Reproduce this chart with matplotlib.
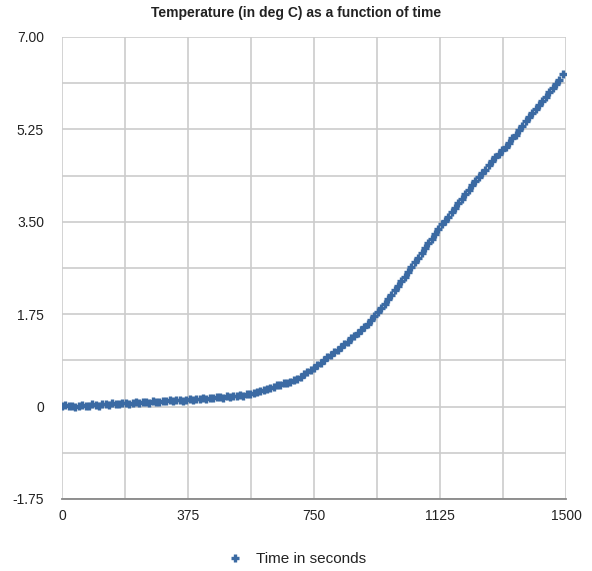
import numpy as np
import matplotlib
matplotlib.use("Agg")
import matplotlib.pyplot as plt

plt.rcParams['font.family'] = ['Liberation Sans', 'DejaVu Sans']

# sample times (s) and temperature readings (deg C)
time_s = np.arange(0, 1500, 10)
temp_c = [
    0.02, 0.03, 0.01, 0.02, 0.00, 0.02, 0.03, 0.01, 0.02, 0.04,
    0.03, 0.02, 0.05, 0.04, 0.03, 0.06, 0.05, 0.04, 0.06, 0.07,
    0.05, 0.07, 0.08, 0.06, 0.08, 0.09, 0.07, 0.10, 0.09, 0.08,
    0.11, 0.10, 0.12, 0.11, 0.13, 0.12, 0.11, 0.13, 0.14, 0.12,
    0.15, 0.14, 0.16, 0.15, 0.17, 0.16, 0.18, 0.19, 0.17, 0.20,
    0.19, 0.21, 0.20, 0.22, 0.21, 0.23, 0.24, 0.26, 0.28, 0.29,
    0.31, 0.33, 0.36, 0.38, 0.40, 0.41, 0.44, 0.45, 0.47, 0.50,
    0.53, 0.57, 0.61, 0.65, 0.70, 0.74, 0.79, 0.83, 0.89, 0.93,
    0.98, 1.03, 1.08, 1.13, 1.18, 1.23, 1.29, 1.34, 1.39, 1.45,
    1.50, 1.57, 1.64, 1.71, 1.79, 1.87, 1.95, 2.03, 2.12, 2.20,
    2.29, 2.37, 2.46, 2.55, 2.64, 2.73, 2.82, 2.91, 3.00, 3.09,
    3.18, 3.27, 3.36, 3.45, 3.52, 3.60, 3.68, 3.77, 3.86, 3.94,
    4.03, 4.11, 4.19, 4.27, 4.34, 4.42, 4.49, 4.57, 4.65, 4.72,
    4.79, 4.86, 4.92, 5.00, 5.08, 5.15, 5.23, 5.31, 5.40, 5.48,
    5.56, 5.64, 5.71, 5.79, 5.87, 5.95, 6.03, 6.11, 6.19, 6.30,
]

x_ticks = [0, 375, 750, 1125, 1500]
y_ticks = [-1.75, 0, 1.75, 3.50, 5.25, 7.00]
y_labels = ["-1.75", "0", "1.75", "3.50", "5.25", "7.00"]

blue = '#3b6aa3'
text_col = '#222222'

fig = plt.figure(figsize=(5.92, 5.71), dpi=100)
ax = fig.add_axes([62 / 592, 72 / 571, 504 / 592, 462 / 571])

ax.plot(time_s, temp_c, linestyle='none', marker='+', markersize=6,
        markeredgewidth=2.4, color=blue, label='Time in seconds', zorder=3)

ax.set_xlim(0, 1500)
ax.set_ylim(-1.75, 7.0)
ax.set_xticks(np.arange(0, 1501, 187.5), minor=True)
ax.set_yticks(np.arange(-1.75, 7.01, 0.875), minor=True)
ax.set_xticks(x_ticks)
ax.set_xticklabels([str(t) for t in x_ticks])
ax.set_yticks(y_ticks)
ax.set_yticklabels(y_labels)
ax.grid(True, which='both', color='#cccccc', linewidth=1.2, zorder=0)
ax.set_axisbelow(True)
ax.tick_params(which='both', length=0, labelsize=10, colors=text_col)
ax.tick_params(axis='y', pad=13)
ax.tick_params(axis='x', pad=7)

for side in ['top', 'right', 'left']:
    ax.spines[side].set_visible(False)
ax.spines['bottom'].set_color('#888888')
ax.spines['bottom'].set_linewidth(1.3)

fig.text(0.5, 1 - 13 / 571, "Temperature (in deg C) as a function of time",
         ha='center', va='center', fontsize=10, fontweight='bold', color=text_col)

fig.legend(loc='center', bbox_to_anchor=(0.5, 12 / 571), frameon=False,
           fontsize=11, handletextpad=0.8, handlelength=1.2, labelcolor=text_col)

fig.savefig('out.png', dpi=100)
